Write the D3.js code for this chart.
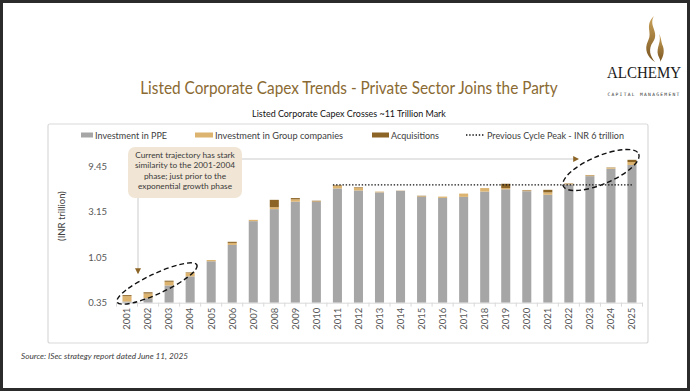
<!DOCTYPE html>
<html>
<head>
<meta charset="utf-8">
<script src="https://cdn.jsdelivr.net/npm/d3@7"></script>
<style>
  body { margin: 0; background: #fff; }
  svg { display: block; font-family: Lato, "Open Sans", sans-serif; }
</style>
</head>
<body>
<svg id="chart" width="690" height="391"></svg>
<script>
// data (INR trillion)
var years = ["2001","2002","2003","2004","2005","2006","2007","2008","2009","2010","2011","2012","2013",
             "2014","2015","2016","2017","2018","2019","2020","2021","2022","2023","2024","2025"];
var ppe   = [0.36,0.39,0.53,0.66,0.95,1.41,2.50,3.34,4.00,3.98,5.50,5.24,5.00,
             5.20,4.50,4.38,4.49,5.10,5.39,5.15,4.72,6.05,7.40,8.85,9.70];
var group = [0.05,0.047,0.05,0.06,0.03,0.07,0.08,0.16,0.23,0.05,0.42,0.36,0.10,
             0.03,0.06,0.14,0.37,0.45,0.16,0.10,0.28,0.12,0.16,0.20,0.70];
var acq   = [0.01,0.013,0.015,0.008,0,0.04,0,0.68,0.13,0.06,0.06,0.07,0,
             0,0.05,0,0,0,0.61,0.05,0.32,0.05,0.05,0.07,0.57];
var yTicks = [0.35, 1.05, 3.15, 9.45];
var peakValue = 6;
var peakFrom = "2011", peakTo = "2025";
var seriesNames = ["Investment in PPE", "Investment in Group companies", "Acquisitions"];
var peakLabel = "Previous Cycle Peak - INR 6 trillion";
var colors = ["#a6a6a6", "#dcb36f", "#8c6425"];

// squeeze a centred text horizontally so it spans the given width
function fitWidth(sel, cx, cy, width) {
    var w = sel.node().getComputedTextLength();
    var k = Math.min(1, width / w);
    sel.attr("x", 0).attr("y", 0)
        .attr("transform", "translate(" + cx + "," + cy + ") scale(" + k + ",1)");
}

function init() {
    var svg = d3.select("#chart");

    // slide border
    svg.append("rect").attr("x", 1.5).attr("y", 1.5).attr("width", 687).attr("height", 388)
        .attr("fill", "none").attr("stroke", "#2b2b2b").attr("stroke-width", 3);

    // logo
    var logo = svg.append("g");
    var grad = svg.append("defs").append("linearGradient").attr("id", "gold")
        .attr("x1", 0).attr("y1", 0).attr("x2", 0).attr("y2", 1);
    grad.append("stop").attr("offset", "0").attr("stop-color", "#c9a25a");
    grad.append("stop").attr("offset", "1").attr("stop-color", "#7a5520");
    logo.append("path")
        .attr("d", "M654,16 C648,26 660,32 653,42 C648,49 650,56 655,62 C647,57 644,49 648,41 C653,32 644,26 654,16 Z")
        .attr("fill", "url(#gold)");
    logo.append("path")
        .attr("d", "M659,34 C662,42 656,47 658,55 C659,58 661,60 660,62 C664,56 665,50 662,44 C661,40 661,37 659,34 Z")
        .attr("fill", "url(#gold)");
    var brand = logo.append("text").attr("text-anchor", "middle")
        .attr("font-family", "'Liberation Serif', serif").attr("font-size", 16)
        .attr("fill", "#1a1a1a").text("ALCHEMY");
    fitWidth(brand, 644, 78, 74);
    var sub = logo.append("text").attr("text-anchor", "middle")
        .attr("font-family", "'DejaVu Sans Mono', monospace").attr("font-size", 4.6)
        .attr("letter-spacing", 1.3).attr("fill", "#333").text("CAPITAL MANAGEMENT");
    fitWidth(sub, 644, 96, 74);

    // titles
    var title = svg.append("text").attr("text-anchor", "middle")
        .attr("font-size", 17.5).attr("fill", "#8a6a32")
        .text("Listed Corporate Capex Trends - Private Sector Joins the Party");
    fitWidth(title, 349, 94, 418);
    var subtitle = svg.append("text").attr("text-anchor", "middle")
        .attr("font-size", 9.5).attr("fill", "#111")
        .text("Listed Corporate Capex Crosses ~11 Trillion Mark");
    fitWidth(subtitle, 349, 117, 194);

    // chart frame
    svg.append("rect").attr("x", 48).attr("y", 124).attr("width", 600).attr("height", 219)
        .attr("rx", 2).attr("fill", "#fff").attr("stroke", "#d9d9d9").attr("stroke-width", 1.2);

    // scales
    var xScale = d3.scaleBand().domain(years).range([116.5, 642.5]).paddingInner(0.57).paddingOuter(0.285);
    var yScale = d3.scaleLog().base(3).domain([0.35, 9.45]).range([302.7, 166]);
    var yMin = yScale.domain()[0];

    // stacked data
    var rows = years.map(function(y, i) {
        return { year: y, ppe: ppe[i], group: group[i], acq: acq[i] };
    });
    var stacked = d3.stack().keys(["ppe", "group", "acq"])(rows);

    svg.selectAll("g.series")
        .data(stacked)
        .enter()
        .append("g")
        .attr("class", "series")
        .attr("fill", function(d, i) { return colors[i]; })
        .selectAll("rect")
        .data(function(d) { return d; })
        .enter()
        .append("rect")
        .attr("x", function(d) { return xScale(d.data.year); })
        .attr("width", xScale.bandwidth())
        .attr("y", function(d) { return yScale(Math.max(d[1], yMin)); })
        .attr("height", function(d) {
            return yScale(Math.max(d[0], yMin)) - yScale(Math.max(d[1], yMin));
        });

    // x axis
    var xAxis = d3.axisBottom(xScale).tickSize(0).tickPadding(5);
    var gx = svg.append("g").attr("transform", "translate(0," + yScale(yMin) + ")").call(xAxis);
    gx.select(".domain").attr("stroke", "#d9d9d9");
    gx.selectAll("text")
        .attr("transform", "rotate(-90)")
        .attr("text-anchor", "end")
        .attr("x", -5).attr("y", 0).attr("dy", "0.35em")
        .attr("font-family", "Lato, sans-serif")
        .attr("font-size", 9.5).attr("fill", "#595959");
    // category separator ticks
    gx.selectAll("line.sep")
        .data(years.concat(["end"]))
        .enter()
        .append("line")
        .attr("class", "sep")
        .attr("x1", function(d, i) { return 116.5 + i * xScale.step(); })
        .attr("x2", function(d, i) { return 116.5 + i * xScale.step(); })
        .attr("y1", 0).attr("y2", 4)
        .attr("stroke", "#d9d9d9");

    // y axis
    var yAxis = d3.axisLeft(yScale).tickValues(yTicks).tickSize(0).tickPadding(4)
        .tickFormat(d3.format(".2f"));
    var gy = svg.append("g").attr("transform", "translate(111,0)").call(yAxis);
    gy.select(".domain").remove();
    gy.selectAll("text").attr("font-family", "Lato, sans-serif")
        .attr("font-size", 9.5).attr("fill", "#595959");

    svg.append("text").attr("transform", "translate(65,216) rotate(-90)")
        .attr("text-anchor", "middle").attr("font-size", 9.5).attr("fill", "#404040")
        .text("(INR trillion)");

    // previous cycle peak line
    svg.append("line")
        .attr("x1", xScale(peakFrom)).attr("x2", xScale(peakTo) + xScale.bandwidth() / 2)
        .attr("y1", yScale(peakValue)).attr("y2", yScale(peakValue))
        .attr("stroke", "#111").attr("stroke-width", 1.4).attr("stroke-dasharray", "1.4,1.8");

    // legend
    var legend = svg.append("g").attr("font-size", 9.5).attr("fill", "#404040");
    var legItems = [
        { sx: 81, sw: 12, tx: 95, tw: 72, color: colors[0], label: seriesNames[0] },
        { sx: 195, sw: 18, tx: 215, tw: 128, color: colors[1], label: seriesNames[1] },
        { sx: 372, sw: 17, tx: 391, tw: 48, color: colors[2], label: seriesNames[2] }
    ];
    legItems.forEach(function(it) {
        legend.append("rect").attr("x", it.sx).attr("y", 132.5).attr("width", it.sw).attr("height", 5)
            .attr("fill", it.color);
        legend.append("text").attr("x", it.tx).attr("y", 138.5).attr("fill", "#404040")
            .attr("textLength", it.tw).attr("lengthAdjust", "spacingAndGlyphs").text(it.label);
    });
    legend.append("line").attr("x1", 466).attr("x2", 485).attr("y1", 135).attr("y2", 135)
        .attr("stroke", "#111").attr("stroke-width", 1.4).attr("stroke-dasharray", "1.4,1.8");
    legend.append("text").attr("x", 487).attr("y", 138.5).attr("fill", "#404040")
        .attr("textLength", 137).attr("lengthAdjust", "spacingAndGlyphs").text(peakLabel);

    // annotation arrows
    var arrowDefs = svg.select("defs");
    arrowDefs.append("marker").attr("id", "tip").attr("viewBox", "0 0 10 10")
        .attr("refX", 8).attr("refY", 5).attr("markerWidth", 4).attr("markerHeight", 4)
        .attr("orient", "auto")
        .append("path").attr("d", "M0,0 L10,5 L0,10 Z").attr("fill", "#8c6425");
    svg.append("line").attr("x1", 138).attr("x2", 138).attr("y1", 198).attr("y2", 273)
        .attr("stroke", "#dcdcdc").attr("stroke-width", 1.5).attr("marker-end", "url(#tip)");
    svg.append("line").attr("x1", 242).attr("x2", 578).attr("y1", 159).attr("y2", 159)
        .attr("stroke", "#dcdcdc").attr("stroke-width", 1.5).attr("marker-end", "url(#tip)");

    // annotation box
    svg.append("rect").attr("x", 128).attr("y", 147).attr("width", 114).attr("height", 51)
        .attr("rx", 7).attr("fill", "#f1e6d5");
    var noteLines = ["Current trajectory has stark", "similarity to the 2001-2004",
                     "phase; just prior to the", "exponential growth phase"];
    svg.append("g").selectAll("text").data(noteLines).enter().append("text")
        .attr("x", 185).attr("y", function(d, i) { return 158 + i * 10.3; })
        .attr("text-anchor", "middle").attr("font-size", 8.3).attr("fill", "#3a3a3a")
        .text(function(d) { return d; });

    // dashed ellipses
    svg.append("ellipse").attr("cx", 157).attr("cy", 283.5).attr("rx", 44).attr("ry", 10)
        .attr("transform", "rotate(-25,157,283.5)")
        .attr("fill", "none").attr("stroke", "#111").attr("stroke-width", 1.4).attr("stroke-dasharray", "5,3");
    svg.append("ellipse").attr("cx", 601).attr("cy", 170).attr("rx", 41).attr("ry", 14)
        .attr("transform", "rotate(-23,601,170)")
        .attr("fill", "none").attr("stroke", "#111").attr("stroke-width", 1.4).attr("stroke-dasharray", "5,3");

    // source
    svg.append("text").attr("x", 21).attr("y", 359).attr("font-size", 8.5)
        .attr("font-style", "italic").attr("fill", "#404040")
        .attr("textLength", 167).attr("lengthAdjust", "spacingAndGlyphs")
        .text("Source: ISec strategy report dated June 11, 2025");
}

window.onload = init;
</script>
</body>
</html>
